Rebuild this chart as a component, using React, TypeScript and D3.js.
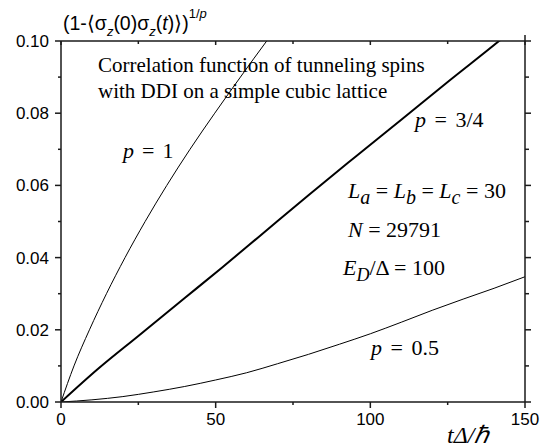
import React from 'react';
import * as d3 from 'd3';

// p = 1 (thin)
const p1T = [0, 4.2, 9.2, 14.7, 20.7, 27.2, 34.2, 41.7, 49.7, 58, 66.5, 70];
const p1V = [0, 0.01, 0.02, 0.03, 0.04, 0.05, 0.06, 0.07, 0.08, 0.09, 0.1, 0.104];

// p = 3/4 (thick)
const p34T = [0, 12, 25, 40, 52, 64, 80, 95, 110, 125.5, 141.6, 150];
const p34V = [0, 0.0092, 0.0183, 0.0288, 0.0372, 0.0458, 0.0573, 0.0678, 0.0782, 0.089, 0.1, 0.106];

// p = 0.5 (thin)
const p05T = [0, 10, 20, 30, 40, 50, 60, 70, 80, 90, 100, 110, 120, 130, 140, 150];
const p05V = [0, 0.0006, 0.0015, 0.0028, 0.0043, 0.0061, 0.0081, 0.0106, 0.0132, 0.016, 0.0189, 0.0221, 0.0254, 0.0285, 0.0315, 0.0347];

const xTicks = [0, 50, 100, 150];
const xMinor = [25, 75, 125];
const yTicks = [0, 0.02, 0.04, 0.06, 0.08, 0.1];
const yMinor = [0.01, 0.03, 0.05, 0.07, 0.09];

const W = 552;
const H = 448;
const left = 61, right = 525, top = 41, bottom = 402;

const serif = '"Liberation Serif", "Times New Roman", serif';
const sans = '"Liberation Sans", Arial, sans-serif';
const ink = '#1a1a1a';

const App: React.FC = () => {
  const x = d3.scaleLinear().domain([0, 150]).range([left, right]);
  const y = d3.scaleLinear().domain([0, 0.1]).range([bottom, top]);

  const line = d3.line<[number, number]>()
    .x(d => x(d[0]))
    .y(d => y(d[1]))
    .curve(d3.curveMonotoneX);

  const path = (ts: number[], vs: number[]) =>
    line(ts.map((t, i) => [t, vs[i]] as [number, number])) || undefined;

  return (
    <div style={{ position: 'absolute', left: 0, top: 0 }}>
      <svg width={W} height={H} viewBox={`0 0 ${W} ${H}`} style={{ display: 'block', background: '#fff' }}>
        <defs>
          <clipPath id="plot">
            <rect x={left} y={top} width={right - left} height={bottom - top} />
          </clipPath>
        </defs>

        {/* curves */}
        <g clipPath="url(#plot)" fill="none" stroke="#000">
          <path d={path(p1T, p1V)} strokeWidth={1} />
          <path d={path(p34T, p34V)} strokeWidth={2} />
          <path d={path(p05T, p05V)} strokeWidth={1} />
        </g>

        {/* frame */}
        <g stroke={ink} strokeWidth={1.5} fill="none">
          <line x1={left} x2={left} y1={top} y2={bottom} />
          <line x1={left} x2={right} y1={bottom} y2={bottom} />
          <line x1={left} x2={right} y1={top} y2={top} />
          <line x1={right} x2={right} y1={top - 6} y2={bottom} />

          {xTicks.map(t => (
            <g key={'xt' + t}>
              <line x1={x(t)} x2={x(t)} y1={bottom} y2={bottom + 6} />
              <line x1={x(t)} x2={x(t)} y1={top} y2={top + 4} />
            </g>
          ))}
          {xMinor.map(t => (
            <g key={'xm' + t}>
              <line x1={x(t)} x2={x(t)} y1={bottom} y2={bottom + 3} />
              <line x1={x(t)} x2={x(t)} y1={top} y2={top + 3} />
            </g>
          ))}
          {yTicks.map(v => (
            <g key={'yt' + v}>
              <line x1={left - 6} x2={left} y1={y(v)} y2={y(v)} />
              <line x1={right} x2={right + 6} y1={y(v)} y2={y(v)} />
            </g>
          ))}
          {yMinor.map(v => (
            <g key={'ym' + v}>
              <line x1={left - 3} x2={left} y1={y(v)} y2={y(v)} />
              <line x1={right} x2={right + 4} y1={y(v)} y2={y(v)} />
            </g>
          ))}
        </g>

        {/* tick labels */}
        <g fontFamily={sans} fontSize={17} fill="#000">
          {xTicks.map(t => (
            <text key={'xl' + t} x={x(t)} y={bottom + 23} textAnchor="middle">{t}</text>
          ))}
          {yTicks.map(v => (
            <text key={'yl' + v} x={left - 12} y={y(v) + 6} textAnchor="end">{d3.format('.2f')(v)}</text>
          ))}
        </g>

        {/* y axis title */}
        <text x={63} y={30} fontFamily={sans} fontSize={19.5} fill="#000">
          {'(1-\u27E8\u03C3'}
          <tspan fontSize={13} fontStyle="italic" dy={6}>z</tspan>
          <tspan dy={-6}>{'(0)\u03C3'}</tspan>
          <tspan fontSize={13} fontStyle="italic" dy={6}>z</tspan>
          <tspan dy={-6}>(</tspan>
          <tspan fontStyle="italic">t</tspan>
          <tspan>{')\u27E9)'}</tspan>
          <tspan fontSize={13} dy={-12}>1/</tspan>
          <tspan fontSize={13} fontStyle="italic">p</tspan>
        </text>

        {/* x axis title */}
        <text x={447} y={443} fontFamily={serif} fontSize={24} fontStyle="italic" fill="#000">
          {'t\u0394/\u210F'}
        </text>

        {/* annotations */}
        <g fontFamily={serif} fill="#000">
          <text x={98} y={72} fontSize={21}>Correlation function of tunneling spins</text>
          <text x={98} y={98} fontSize={21}>with DDI on a simple cubic lattice</text>

          <text x={123} y={158} fontSize={22} wordSpacing={2.5}>
            <tspan fontStyle="italic">p</tspan>{' = 1'}
          </text>
          <text x={415} y={127} fontSize={22} wordSpacing={3}>
            <tspan fontStyle="italic">p</tspan>{' = 3/4'}
          </text>
          <text x={371} y={355} fontSize={22} wordSpacing={3}>
            <tspan fontStyle="italic">p</tspan>{' = 0.5'}
          </text>

          <text x={348} y={198} fontSize={22}>
            <tspan fontStyle="italic">L</tspan>
            <tspan fontStyle="italic" fontSize={20} dy={6}>a</tspan>
            <tspan dy={-6}>{' = '}</tspan>
            <tspan fontStyle="italic">L</tspan>
            <tspan fontStyle="italic" fontSize={20} dy={6}>b</tspan>
            <tspan dy={-6}>{' = '}</tspan>
            <tspan fontStyle="italic">L</tspan>
            <tspan fontStyle="italic" fontSize={20} dy={6}>c</tspan>
            <tspan dy={-6}>{' = 30'}</tspan>
          </text>
          <text x={348} y={237} fontSize={22}>
            <tspan fontStyle="italic">N</tspan>{' = 29791'}
          </text>
          <text x={343} y={275} fontSize={22}>
            <tspan fontStyle="italic">E</tspan>
            <tspan fontStyle="italic" fontSize={18} dy={6}>D</tspan>
            <tspan dy={-6}>{'/\u0394 = 100'}</tspan>
          </text>
        </g>
      </svg>
    </div>
  );
};

export default App;
